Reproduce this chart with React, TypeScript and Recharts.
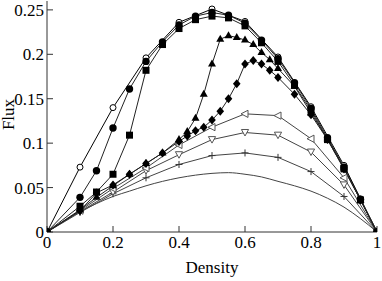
import { LineChart, Line, XAxis, YAxis, Label } from 'recharts';

// densities on a 0.1 grid and on a 0.05 grid (no 0.05 point)
const rho10 = [0, 0.1, 0.2, 0.3, 0.4, 0.5, 0.6, 0.7, 0.8, 0.9, 1];
const rho05 = [0, 0.1, 0.15, 0.2, 0.25, 0.3, 0.35, 0.4, 0.45, 0.5, 0.55, 0.6, 0.65, 0.7, 0.75, 0.8, 0.85, 0.9, 0.95, 1];
const rhoFine = [0, 0.1, 0.15, 0.2, 0.25, 0.3, 0.35, 0.4, 0.425, 0.45, 0.475, 0.5, 0.525, 0.55, 0.575, 0.6, 0.625, 0.65, 0.675, 0.7, 0.75, 0.8, 0.85, 0.9, 0.95, 1];
const rhoSmooth = [0, 0.05, 0.1, 0.15, 0.2, 0.25, 0.3, 0.35, 0.4, 0.45, 0.5, 0.55, 0.6, 0.65, 0.7, 0.75, 0.8, 0.85, 0.9, 0.95, 1];

const openCircleFlux = [0, 0.073, 0.14, 0.196, 0.236, 0.251, 0.237, 0.197, 0.141, 0.075, 0];
const filledCircleFlux = [0, 0.039, 0.069, 0.117, 0.161, 0.192, 0.214, 0.233, 0.243, 0.247, 0.244, 0.235, 0.216, 0.195, 0.168, 0.139, 0.106, 0.073, 0.037, 0];
const squareFlux = [0, 0.029, 0.045, 0.065, 0.109, 0.182, 0.211, 0.229, 0.239, 0.243, 0.241, 0.232, 0.213, 0.192, 0.165, 0.137, 0.104, 0.071, 0.036, 0];
const triangleFlux = [0, 0.025, 0.039, 0.052, 0.065, 0.077, 0.089, 0.104, 0.113, 0.128, 0.155, 0.189, 0.217, 0.221, 0.219, 0.216, 0.211, 0.202, 0.194, 0.184, 0.164, 0.134, 0.105, 0.072, 0.036, 0];
const diamondFlux = [0, 0.024, 0.044, 0.053, 0.065, 0.077, 0.089, 0.102, 0.108, 0.114, 0.118, 0.126, 0.136, 0.15, 0.167, 0.189, 0.193, 0.189, 0.182, 0.174, 0.155, 0.132, 0.104, 0.071, 0.036, 0];
const leftTriFlux = [0, 0.024, 0.049, 0.072, 0.098, 0.118, 0.133, 0.131, 0.105, 0.061, 0];
const downTriFlux = [0, 0.023, 0.045, 0.069, 0.087, 0.104, 0.112, 0.109, 0.09, 0.053, 0];
const plusFlux = [0, 0.022, 0.043, 0.061, 0.076, 0.086, 0.089, 0.084, 0.068, 0.04, 0];
const plainFlux = [0, 0.012, 0.023, 0.032, 0.04, 0.046, 0.052, 0.057, 0.061, 0.064, 0.066, 0.0668, 0.065, 0.062, 0.057, 0.052, 0.046, 0.038, 0.028, 0.015, 0];

const xTicks = [0, 0.2, 0.4, 0.6, 0.8, 1];
const yTicks = [0, 0.05, 0.1, 0.15, 0.2, 0.25];

const FONT = "'Liberation Serif', 'Times New Roman', serif";
const FRAME = '#333';

const pts = (xs: number[], ys: number[]) => xs.map((x, i) => ({ x, y: ys[i] }));

type Shape = 'openCircle' | 'circle' | 'square' | 'triUp' | 'diamond' | 'triLeft' | 'triDown' | 'plus';

const marker = (shape: Shape) => (props: any) => {
    const { cx, cy, index } = props;
    const k = `${shape}-${index}`;
    if (cx == null || cy == null) return <g key={k} />;
    switch (shape) {
        case 'openCircle':
            return <circle key={k} cx={cx} cy={cy} r={3} fill="#fff" stroke="#000" strokeWidth={1} />;
        case 'circle':
            return <circle key={k} cx={cx} cy={cy} r={3.7} fill="#000" />;
        case 'square':
            return <rect key={k} x={cx - 3.5} y={cy - 3.5} width={7} height={7} fill="#000" />;
        case 'triUp':
            return <polygon key={k} points={`${cx},${cy - 4.5} ${cx + 4},${cy + 2.5} ${cx - 4},${cy + 2.5}`} fill="#000" />;
        case 'diamond':
            return <polygon key={k} points={`${cx},${cy - 4.5} ${cx + 3.8},${cy} ${cx},${cy + 4.5} ${cx - 3.8},${cy}`} fill="#000" />;
        case 'triLeft':
            return <polygon key={k} points={`${cx - 4},${cy} ${cx + 3},${cy - 3.6} ${cx + 3},${cy + 3.6}`} fill="#fff" stroke="#555" strokeWidth={1} />;
        case 'triDown':
            return <polygon key={k} points={`${cx - 3.6},${cy - 3} ${cx + 3.6},${cy - 3} ${cx},${cy + 3.5}`} fill="#fff" stroke="#555" strokeWidth={1} />;
        case 'plus':
            return <path key={k} d={`M${cx - 3.5},${cy}H${cx + 3.5}M${cx},${cy - 3.5}V${cy + 3.5}`} stroke="#333" strokeWidth={1} />;
    }
    return <g key={k} />;
};

const series: { name: string; data: { x: number; y: number }[]; shape: Shape | null; color: string }[] = [
    { name: 'plain', data: pts(rhoSmooth, plainFlux), shape: null, color: '#444' },
    { name: 'plus', data: pts(rho10, plusFlux), shape: 'plus', color: '#444' },
    { name: 'triDown', data: pts(rho10, downTriFlux), shape: 'triDown', color: '#444' },
    { name: 'triLeft', data: pts(rho10, leftTriFlux), shape: 'triLeft', color: '#444' },
    { name: 'openCircle', data: pts(rho10, openCircleFlux), shape: 'openCircle', color: '#000' },
    { name: 'diamond', data: pts(rhoFine, diamondFlux), shape: 'diamond', color: '#222' },
    { name: 'triUp', data: pts(rhoFine, triangleFlux), shape: 'triUp', color: '#222' },
    { name: 'square', data: pts(rho05, squareFlux), shape: 'square', color: '#222' },
    { name: 'circle', data: pts(rho05, filledCircleFlux), shape: 'circle', color: '#222' },
];

const tickStyle = { fontFamily: FONT, fontSize: 17, fill: '#000' };

export default function App() {
    return (
        <div style={{ position: 'absolute', left: 0, top: 0, background: '#fff' }}>
            <LineChart width={382} height={281} margin={{ top: 1, right: 5, bottom: 0, left: 0 }}>
                <XAxis
                    dataKey="x"
                    type="number"
                    domain={[0, 1]}
                    ticks={xTicks}
                    interval={0}
                    height={49}
                    tickSize={-6}
                    tickMargin={10}
                    tick={tickStyle}
                    tickFormatter={(v: number) => String(v)}
                    stroke={FRAME}
                    allowDataOverflow
                >
                    <Label
                        content={(p: any) => {
                            const vb = p.viewBox || {};
                            return (
                                <text x={vb.x + vb.width / 2} y={vb.y + 41} textAnchor="middle" fontFamily={FONT} fontSize={17} fill="#000">
                                    Density
                                </text>
                            );
                        }}
                    />
                </XAxis>
                <XAxis
                    xAxisId="top"
                    orientation="top"
                    dataKey="x"
                    type="number"
                    domain={[0, 1]}
                    ticks={xTicks}
                    interval={0}
                    height={0}
                    tickSize={-6}
                    tickFormatter={() => ''}
                    stroke={FRAME}
                    allowDataOverflow
                />
                <YAxis
                    type="number"
                    domain={[0, 0.26]}
                    ticks={yTicks}
                    interval={0}
                    width={47}
                    tickSize={-6}
                    tickMargin={9}
                    tick={tickStyle}
                    tickFormatter={(v: number) => String(v)}
                    stroke={FRAME}
                    allowDataOverflow
                >
                    <Label
                        content={(p: any) => {
                            const vb = p.viewBox || {};
                            const x = vb.x + 14;
                            const y = vb.y + vb.height / 2 - 2;
                            return (
                                <text x={x} y={y} transform={`rotate(-90 ${x} ${y})`} textAnchor="middle" fontFamily={FONT} fontSize={17} fill="#000">
                                    Flux
                                </text>
                            );
                        }}
                    />
                </YAxis>
                <YAxis
                    yAxisId="right"
                    orientation="right"
                    type="number"
                    domain={[0, 0.26]}
                    ticks={yTicks}
                    interval={0}
                    width={0}
                    tickSize={-6}
                    tickFormatter={() => ''}
                    stroke={FRAME}
                    allowDataOverflow
                />
                {series.map((s) => (
                    <Line
                        key={s.name}
                        data={s.data}
                        dataKey="y"
                        type={s.shape ? 'linear' : 'monotone'}
                        stroke={s.color}
                        strokeWidth={1}
                        dot={s.shape ? marker(s.shape) : false}
                        activeDot={false}
                        isAnimationActive={false}
                    />
                ))}
            </LineChart>
        </div>
    );
}
